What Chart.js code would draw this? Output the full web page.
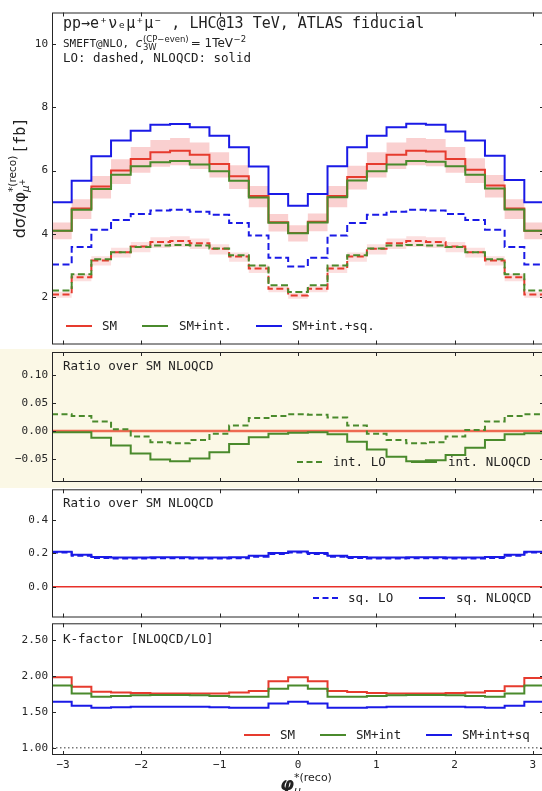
<!DOCTYPE html>
<html>
<head>
<meta charset="utf-8">
<script src="https://cdn.jsdelivr.net/npm/chart.js@4.4.1/dist/chart.umd.min.js"></script>
<style>
html, body { margin: 0; padding: 0; overflow: hidden; background: #fff; width: 542px; height: 791px; }
canvas { position: absolute; left: 0; }
#yellow { position: absolute; left: 0; top: 349px; width: 542px; height: 139px; background: #fbf8e6; }
</style>
</head>
<body>
<div id="yellow"></div>
<canvas id="main" width="546" height="350" style="top:0px"></canvas>
<canvas id="r1" width="546" height="140" style="top:349px"></canvas>
<canvas id="r2" width="546" height="132" style="top:487px"></canvas>
<canvas id="kf" width="546" height="172" style="top:619px"></canvas>
<script>
const RED = '#e63b2e', GREEN = '#4a8a2c', BLUE = '#1a1ae6';
const MONO = 'DejaVu Sans Mono', SANS = 'DejaVu Sans';

// 25 bins of phi*_mu+ between -pi and pi
const phiTicks = [-3, -2, -1, 0, 1, 2, 3];
const mainTicks = [2, 4, 6, 8, 10];
const r1Ticks = [-0.05, 0, 0.05, 0.10];
const r2Ticks = [0, 0.2, 0.4];
const kfTicks = [1, 1.5, 2, 2.5];

// main panel, dsigma/dphi [fb]
const smNLO   = [4.10,4.80,5.50,6.00,6.37,6.58,6.63,6.50,6.21,5.82,5.20,4.37,4.03,4.38,5.20,5.80,6.21,6.50,6.63,6.60,6.37,6.03,5.53,4.80,4.10];
const smNLOhi = [4.36,5.09,5.83,6.36,6.75,6.97,7.03,6.89,6.58,6.17,5.51,4.63,4.27,4.64,5.51,6.15,6.58,6.89,7.03,7.00,6.75,6.39,5.86,5.09,4.36];
const smNLOlo = [3.83,4.47,5.12,5.58,5.93,6.12,6.17,6.05,5.78,5.42,4.84,4.07,3.76,4.08,4.84,5.40,5.78,6.05,6.17,6.14,5.93,5.61,5.15,4.47,3.83];
const intNLO  = [4.10,4.76,5.42,5.87,6.14,6.26,6.30,6.19,5.98,5.68,5.15,4.35,4.02,4.36,5.16,5.69,5.98,6.19,6.30,6.28,6.14,5.87,5.43,4.77,4.10];
const sqNLO   = [5.00,5.68,6.45,6.95,7.26,7.45,7.47,7.37,7.10,6.74,6.13,5.26,4.89,5.26,6.14,6.74,7.10,7.37,7.48,7.45,7.24,6.95,6.47,5.70,5.00];
const smLO    = [2.08,2.63,3.16,3.42,3.60,3.74,3.77,3.70,3.53,3.28,2.90,2.26,2.05,2.26,2.90,3.28,3.53,3.70,3.77,3.74,3.60,3.42,3.16,2.63,2.08];
const smLOhi  = [2.17,2.74,3.29,3.56,3.74,3.89,3.92,3.85,3.67,3.41,3.02,2.35,2.13,2.35,3.02,3.41,3.67,3.85,3.92,3.89,3.74,3.56,3.29,2.74,2.17];
const smLOlo  = [1.98,2.50,3.00,3.25,3.42,3.55,3.58,3.52,3.35,3.12,2.76,2.15,1.95,2.15,2.76,3.12,3.35,3.52,3.58,3.55,3.42,3.25,3.00,2.50,1.98];
const intLO   = [2.21,2.72,3.20,3.42,3.58,3.63,3.65,3.63,3.54,3.32,3.00,2.37,2.16,2.37,3.00,3.32,3.54,3.63,3.65,3.63,3.58,3.42,3.20,2.72,2.21];
const sqLO    = [3.03,3.58,4.13,4.44,4.63,4.74,4.76,4.70,4.60,4.34,3.95,3.24,2.97,3.24,3.95,4.34,4.60,4.70,4.76,4.74,4.63,4.44,4.13,3.58,3.03];

// ratio over SM NLOQCD
const ratioIntLO  = [0.030,0.027,0.017,0.003,-0.010,-0.020,-0.022,-0.016,-0.005,0.010,0.023,0.027,0.030,0.029,0.024,0.010,-0.005,-0.016,-0.022,-0.020,-0.010,0.002,0.017,0.027,0.030];
const ratioIntNLO = [-0.002,-0.002,-0.012,-0.026,-0.040,-0.051,-0.054,-0.049,-0.038,-0.023,-0.011,-0.005,-0.003,-0.002,-0.006,-0.019,-0.033,-0.046,-0.054,-0.052,-0.043,-0.030,-0.016,-0.006,-0.004];
const ratioSqNLO  = [0.210,0.192,0.178,0.176,0.176,0.177,0.177,0.176,0.176,0.177,0.186,0.203,0.212,0.203,0.186,0.178,0.176,0.176,0.177,0.177,0.176,0.176,0.178,0.192,0.210];
const ratioSqLO   = [0.205,0.186,0.172,0.170,0.170,0.171,0.171,0.170,0.170,0.171,0.180,0.197,0.206,0.197,0.180,0.172,0.170,0.170,0.171,0.171,0.170,0.170,0.172,0.186,0.205];
const ratioRef = 0;

// K-factors NLOQCD/LO
const kSM  = [1.98,1.85,1.78,1.77,1.76,1.755,1.755,1.755,1.755,1.77,1.79,1.925,1.98,1.925,1.79,1.775,1.76,1.755,1.755,1.755,1.76,1.77,1.79,1.855,1.97];
const kInt = [1.865,1.755,1.71,1.72,1.73,1.735,1.735,1.73,1.72,1.71,1.71,1.82,1.865,1.82,1.71,1.71,1.72,1.73,1.735,1.735,1.73,1.72,1.71,1.755,1.865];
const kSq  = [1.64,1.585,1.555,1.565,1.57,1.57,1.57,1.57,1.565,1.555,1.555,1.615,1.64,1.615,1.555,1.555,1.565,1.57,1.57,1.57,1.57,1.565,1.555,1.585,1.64];
const kRef = 1;

function steps(vals) {
  const w = 2 * Math.PI / vals.length;
  const pts = vals.map((v, i) => ({ x: -Math.PI + i * w, y: v }));
  pts.push({ x: Math.PI, y: vals[vals.length - 1] });
  return pts;
}
function hist(vals, color, extra) {
  return Object.assign({ data: steps(vals), stepped: true, borderColor: color, borderWidth: 2,
    pointRadius: 0, fill: false, order: 1 }, extra || {});
}
function band(hi, lo, color) {
  return [
    { data: steps(hi), stepped: true, borderWidth: 0, pointRadius: 0, backgroundColor: color, fill: '+1', order: 5 },
    { data: steps(lo), stepped: true, borderWidth: 0, pointRadius: 0, fill: false, order: 5 }
  ];
}
function flat(v, color, w, dash) {
  return { data: [{ x: -Math.PI, y: v }, { x: Math.PI, y: v }], borderColor: color, borderWidth: w,
    borderDash: dash || [], pointRadius: 0, fill: false, order: 3 };
}
function minus(s) { return String(s).replace('-', '\u2212'); }

function legend(ctx, items, y) {
  ctx.font = '12.5px ' + MONO;
  ctx.textBaseline = 'middle';
  items.forEach(it => {
    ctx.strokeStyle = it.c; ctx.lineWidth = 2;
    ctx.setLineDash(it.dash || []);
    ctx.beginPath(); ctx.moveTo(it.x1, y); ctx.lineTo(it.x1 + 26, y); ctx.stroke();
    ctx.setLineDash([]);
    ctx.fillStyle = '#222';
    ctx.fillText(it.t, it.tx, y + 0.5);
  });
}

function frame(yTicks, drawText) {
  return {
    id: 'frame',
    afterDatasetsDraw(chart) {
      const { ctx, chartArea: a, scales } = chart;
      ctx.save();
      ctx.strokeStyle = '#262626'; ctx.lineWidth = 1;
      ctx.strokeRect(a.left + 0.5, a.top + 0.5, a.right - a.left - 1, a.bottom - a.top - 1);
      ctx.beginPath();
      phiTicks.forEach(v => {
        const x = Math.round(scales.x.getPixelForValue(v)) + 0.5;
        ctx.moveTo(x, a.top); ctx.lineTo(x, a.top + 4);
        ctx.moveTo(x, a.bottom); ctx.lineTo(x, a.bottom - 4);
      });
      yTicks.forEach(v => {
        const y = Math.round(scales.y.getPixelForValue(v)) + 0.5;
        ctx.moveTo(a.left, y); ctx.lineTo(a.left + 4, y);
        ctx.moveTo(a.right, y); ctx.lineTo(a.right - 4, y);
      });
      ctx.stroke();
      ctx.fillStyle = '#222';
      drawText(ctx, a);
      ctx.restore();
    }
  };
}

function noPad(s) {
  s.paddingTop = 0; s.paddingBottom = 0; s.paddingLeft = 0; s.paddingRight = 0;
}

function makeChart(id, datasets, yMin, yMax, yTicks, fmt, pad, bottomAxis, drawText) {
  return new Chart(document.getElementById(id), {
    type: 'line',
    data: { datasets: datasets },
    options: {
      responsive: false, animation: false, devicePixelRatio: 1,
      layout: { padding: { left: 0, right: 2, top: pad[0], bottom: pad[1] } },
      plugins: { legend: { display: false }, tooltip: { enabled: false } },
      scales: {
        x: {
          type: 'linear', min: -Math.PI, max: Math.PI, display: bottomAxis,
          grid: { display: false, drawTicks: false }, border: { display: false },
          afterBuildTicks: s => { s.ticks = phiTicks.map(v => ({ value: v })); },
          afterFit: s => { s.height = bottomAxis ? 36 : 0; noPad(s); },
          ticks: { padding: 4, color: '#262626', font: { family: MONO, size: 11 }, callback: v => minus(v) }
        },
        y: {
          min: yMin, max: yMax,
          grid: { display: false, drawTicks: false }, border: { display: false },
          afterBuildTicks: s => { s.ticks = yTicks.map(v => ({ value: v })); },
          afterFit: s => { s.width = 52; noPad(s); },
          ticks: { padding: 4, color: '#262626', font: { family: MONO, size: 11 }, callback: fmt }
        }
      }
    },
    plugins: [frame(yTicks, drawText)]
  });
}

// ---- main panel
makeChart('main', [
  ...band(smNLOhi, smNLOlo, 'rgba(240,110,110,0.32)'),
  ...band(smLOhi, smLOlo, 'rgba(240,110,110,0.22)'),
  hist(sqLO, BLUE, { borderDash: [7, 3.5] }),
  hist(intLO, GREEN, { borderDash: [7, 3.5] }),
  hist(smLO, RED, { borderDash: [7, 3.5] }),
  hist(sqNLO, BLUE),
  hist(intNLO, GREEN),
  hist(smNLO, RED)
], 0.5, 11, mainTicks, v => String(v), [12.5, 5.5], false, (ctx, a) => {
  ctx.textBaseline = 'alphabetic';
  ctx.font = '15px ' + MONO;
  ctx.fillText('pp\u2192e\u207A\u03BD\u2091\u03BC\u207A\u03BC\u207B , LHC@13 TeV, ATLAS fiducial', 63, 28);
  ctx.font = '11px ' + MONO;
  ctx.fillText('SMEFT@NLO, ', 63, 47);
  let x = 63 + ctx.measureText('SMEFT@NLO, ').width;
  ctx.font = 'italic 12px ' + SANS; ctx.fillText('c', x, 47);
  x += ctx.measureText('c').width + 0.5;
  ctx.font = '8.5px ' + SANS;
  ctx.fillText('(CP\u2212even)', x, 41.5); ctx.fillText('3W', x, 50);
  x += ctx.measureText('(CP\u2212even)').width + 2;
  ctx.font = '12px ' + SANS; ctx.fillText('= 1TeV', x, 47);
  x += ctx.measureText('= 1TeV').width + 0.5;
  ctx.font = '8.5px ' + SANS; ctx.fillText('\u22122', x, 41.5);
  ctx.font = '12.5px ' + MONO;
  ctx.fillText('LO: dashed, NLOQCD: solid', 63, 62);

  legend(ctx, [
    { x1: 66, tx: 102, c: RED, t: 'SM' },
    { x1: 142, tx: 179, c: GREEN, t: 'SM+int.' },
    { x1: 256, tx: 292, c: BLUE, t: 'SM+int.+sq.' }
  ], 326);

  // rotated y title
  ctx.save();
  ctx.translate(25, 178);
  ctx.rotate(-Math.PI / 2);
  ctx.textBaseline = 'alphabetic';
  ctx.font = '16px ' + SANS; const w1 = ctx.measureText('d\u03C3/d\u03C6').width;
  ctx.font = '10.5px ' + SANS; const w2 = ctx.measureText('*(reco)').width;
  ctx.font = '15px ' + MONO; const w3 = ctx.measureText('[fb]').width;
  let px = -(w1 + w2 + 2 + w3) / 2;
  ctx.font = '16px ' + SANS; ctx.fillText('d\u03C3/d\u03C6', px, 0); px += w1;
  ctx.font = '10.5px ' + SANS; ctx.fillText('*(reco)', px, -9);
  ctx.font = 'italic 10.5px ' + SANS; ctx.fillText('\u03BC', px, 4);
  ctx.font = '8px ' + SANS; ctx.fillText('+', px + 6.5, 0);
  px += w2 + 2;
  ctx.font = '15px ' + MONO; ctx.fillText('[fb]', px, 0);
  ctx.restore();
});

// ---- ratio panel: interference
makeChart('r1', [
  flat(ratioRef, '#ee6a52', 2.5),
  hist(ratioIntLO, GREEN, { borderDash: [6, 3.5] }),
  hist(ratioIntNLO, GREEN)
], -0.091, 0.141, r1Ticks, v => minus(v.toFixed(2)), [3, 7], false, (ctx) => {
  ctx.textBaseline = 'alphabetic';
  ctx.font = '12.5px ' + MONO;
  ctx.fillText('Ratio over SM NLOQCD', 63, 21);
  legend(ctx, [
    { x1: 297, tx: 333, c: GREEN, t: 'int. LO', dash: [6, 3.5] },
    { x1: 411, tx: 448, c: GREEN, t: 'int. NLOQCD' }
  ], 113);
});

// ---- ratio panel: squared
makeChart('r2', [
  flat(ratioRef, '#e8312a', 1.5),
  hist(ratioSqLO, BLUE, { borderDash: [6, 3.5] }),
  hist(ratioSqNLO, BLUE)
], -0.184, 0.584, r2Ticks, v => minus(v.toFixed(1)), [2.3, 1.5], false, (ctx) => {
  ctx.textBaseline = 'alphabetic';
  ctx.font = '12.5px ' + MONO;
  ctx.fillText('Ratio over SM NLOQCD', 63, 20);
  legend(ctx, [
    { x1: 313, tx: 348, c: BLUE, t: 'sq. LO', dash: [6, 3.5] },
    { x1: 419, tx: 456, c: BLUE, t: 'sq. NLOQCD' }
  ], 111);
});

// ---- K-factor panel
makeChart('kf', [
  flat(kRef, '#777', 1.5, [1.5, 2.5]),
  hist(kSq, BLUE),
  hist(kInt, GREEN),
  hist(kSM, RED)
], 0.9, 2.73, kfTicks, v => v.toFixed(2), [4.3, 0], true, (ctx) => {
  ctx.textBaseline = 'alphabetic';
  ctx.font = '12.5px ' + MONO;
  ctx.fillText('K-factor [NLOQCD/LO]', 63, 24);
  legend(ctx, [
    { x1: 244, tx: 280, c: RED, t: 'SM' },
    { x1: 320, tx: 356, c: GREEN, t: 'SM+int' },
    { x1: 426, tx: 462, c: BLUE, t: 'SM+int+sq' }
  ], 116);
  // x title
  ctx.textBaseline = 'alphabetic';
  ctx.font = 'italic bold 18px ' + SANS;
  ctx.fillText('\u03C6', 280, 171);
  ctx.font = '11px ' + SANS;
  ctx.fillText('*(reco)', 294, 162);
  ctx.font = 'italic 11px ' + SANS;
  ctx.fillText('\u03BC', 294, 175);
});
</script>
</body>
</html>
